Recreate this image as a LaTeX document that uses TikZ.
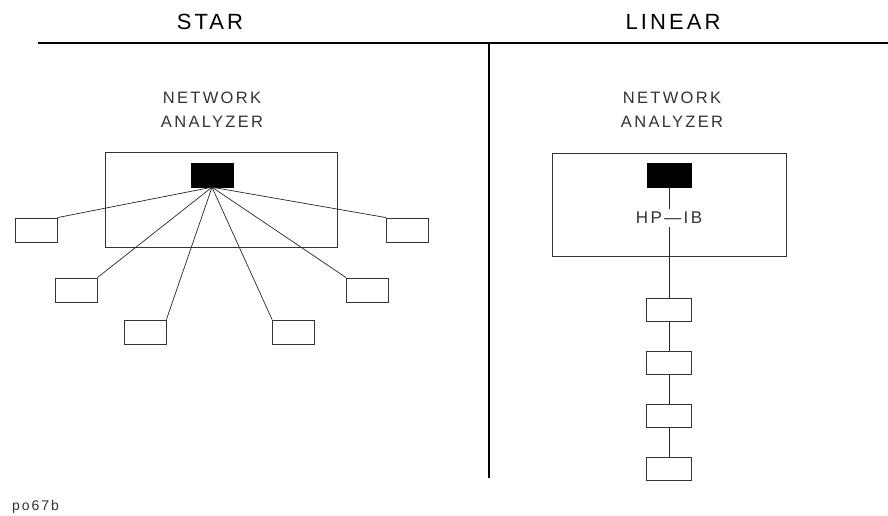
\documentclass[tikz,border=0pt]{standalone}
\usepackage{fontspec}
\setmainfont{Liberation Sans}
\newfontfamily\plotfont[LetterSpace=14]{Liberation Sans}
\begin{document}
\begin{tikzpicture}[x=1pt,y=1pt,
	box/.style={draw=black!80,line width=0.8pt,inner sep=0pt,minimum width=42pt,minimum height=24pt},
	chainbox/.style={box,minimum width=45pt,minimum height=23pt},
	port/.style={fill=black,draw=black,inner sep=0pt,minimum width=42pt,minimum height=24pt},
	label/.style={text=black!80,font=\plotfont\fontsize{16.5}{24}\selectfont,align=center,inner sep=0pt},
	title/.style={font=\plotfont\fontsize{22}{26}\selectfont,inner sep=0pt},
	wire/.style={black!85,line width=0.7pt}]
		\useasboundingbox (0,0) rectangle (888,-516);
		\draw [black,line width=1.4pt] (38,-43) -- (888,-43);
		\draw [black,line width=1.4pt] (489,-43) -- (489,-478);
		\node [title] (startitle) at (210,-22) {STAR};
		\node [title] (lintitle) at (673,-22) {LINEAR};
		\node [label] (starname) at (212,-110) {NETWORK\\ANALYZER};
		\node [label] (linname) at (672,-110) {NETWORK\\ANALYZER};
		\node [box,minimum width=232pt,minimum height=95pt] (starbox) at (221,-199.5) {};
		\node [port] (hub) at (212,-175) {};
		\node [box] (s1) at (36,-230) {};
		\node [box] (s2) at (76,-290) {};
		\node [box] (s3) at (145,-332) {};
		\node [box] (s4) at (293.5,-332) {};
		\node [box] (s5) at (367.5,-290) {};
		\node [box] (s6) at (407.5,-230) {};
		\draw [wire] (hub.south) -- (s1.north east);
		\draw [wire] (hub.south) -- (s2.north east);
		\draw [wire] (hub.south) -- (s3.north east);
		\draw [wire] (hub.south) -- (s4.north west);
		\draw [wire] (hub.south) -- (s5.north west);
		\draw [wire] (hub.south) -- (s6.north west);
		\node [box,minimum width=234pt,minimum height=103pt] (linbox) at (669,-204.5) {};
		\node [port,minimum width=44pt] (bus) at (669,-175) {};
		\node [label,font=\plotfont\fontsize{17}{20}\selectfont] (hpib) at (669,-218) {HP\textemdash IB};
		\node [chainbox] (c1) at (669,-309.5) {};
		\node [chainbox] (c2) at (669,-363) {};
		\node [chainbox] (c3) at (669,-415.5) {};
		\node [chainbox] (c4) at (669,-468.5) {};
		\draw [wire] (bus.south) -- ([yshift=3pt]hpib.north);
		\draw [wire] ([yshift=-3pt]hpib.south) -- (c1.north);
		\draw [wire] (c1.south) -- (c2.north);
		\draw [wire] (c2.south) -- (c3.north);
		\draw [wire] (c3.south) -- (c4.north);
		\node [label,font=\plotfont\fontsize{14}{16}\selectfont,anchor=west] (figid) at (12,-507) {po67b};
\end{tikzpicture}
\end{document}
